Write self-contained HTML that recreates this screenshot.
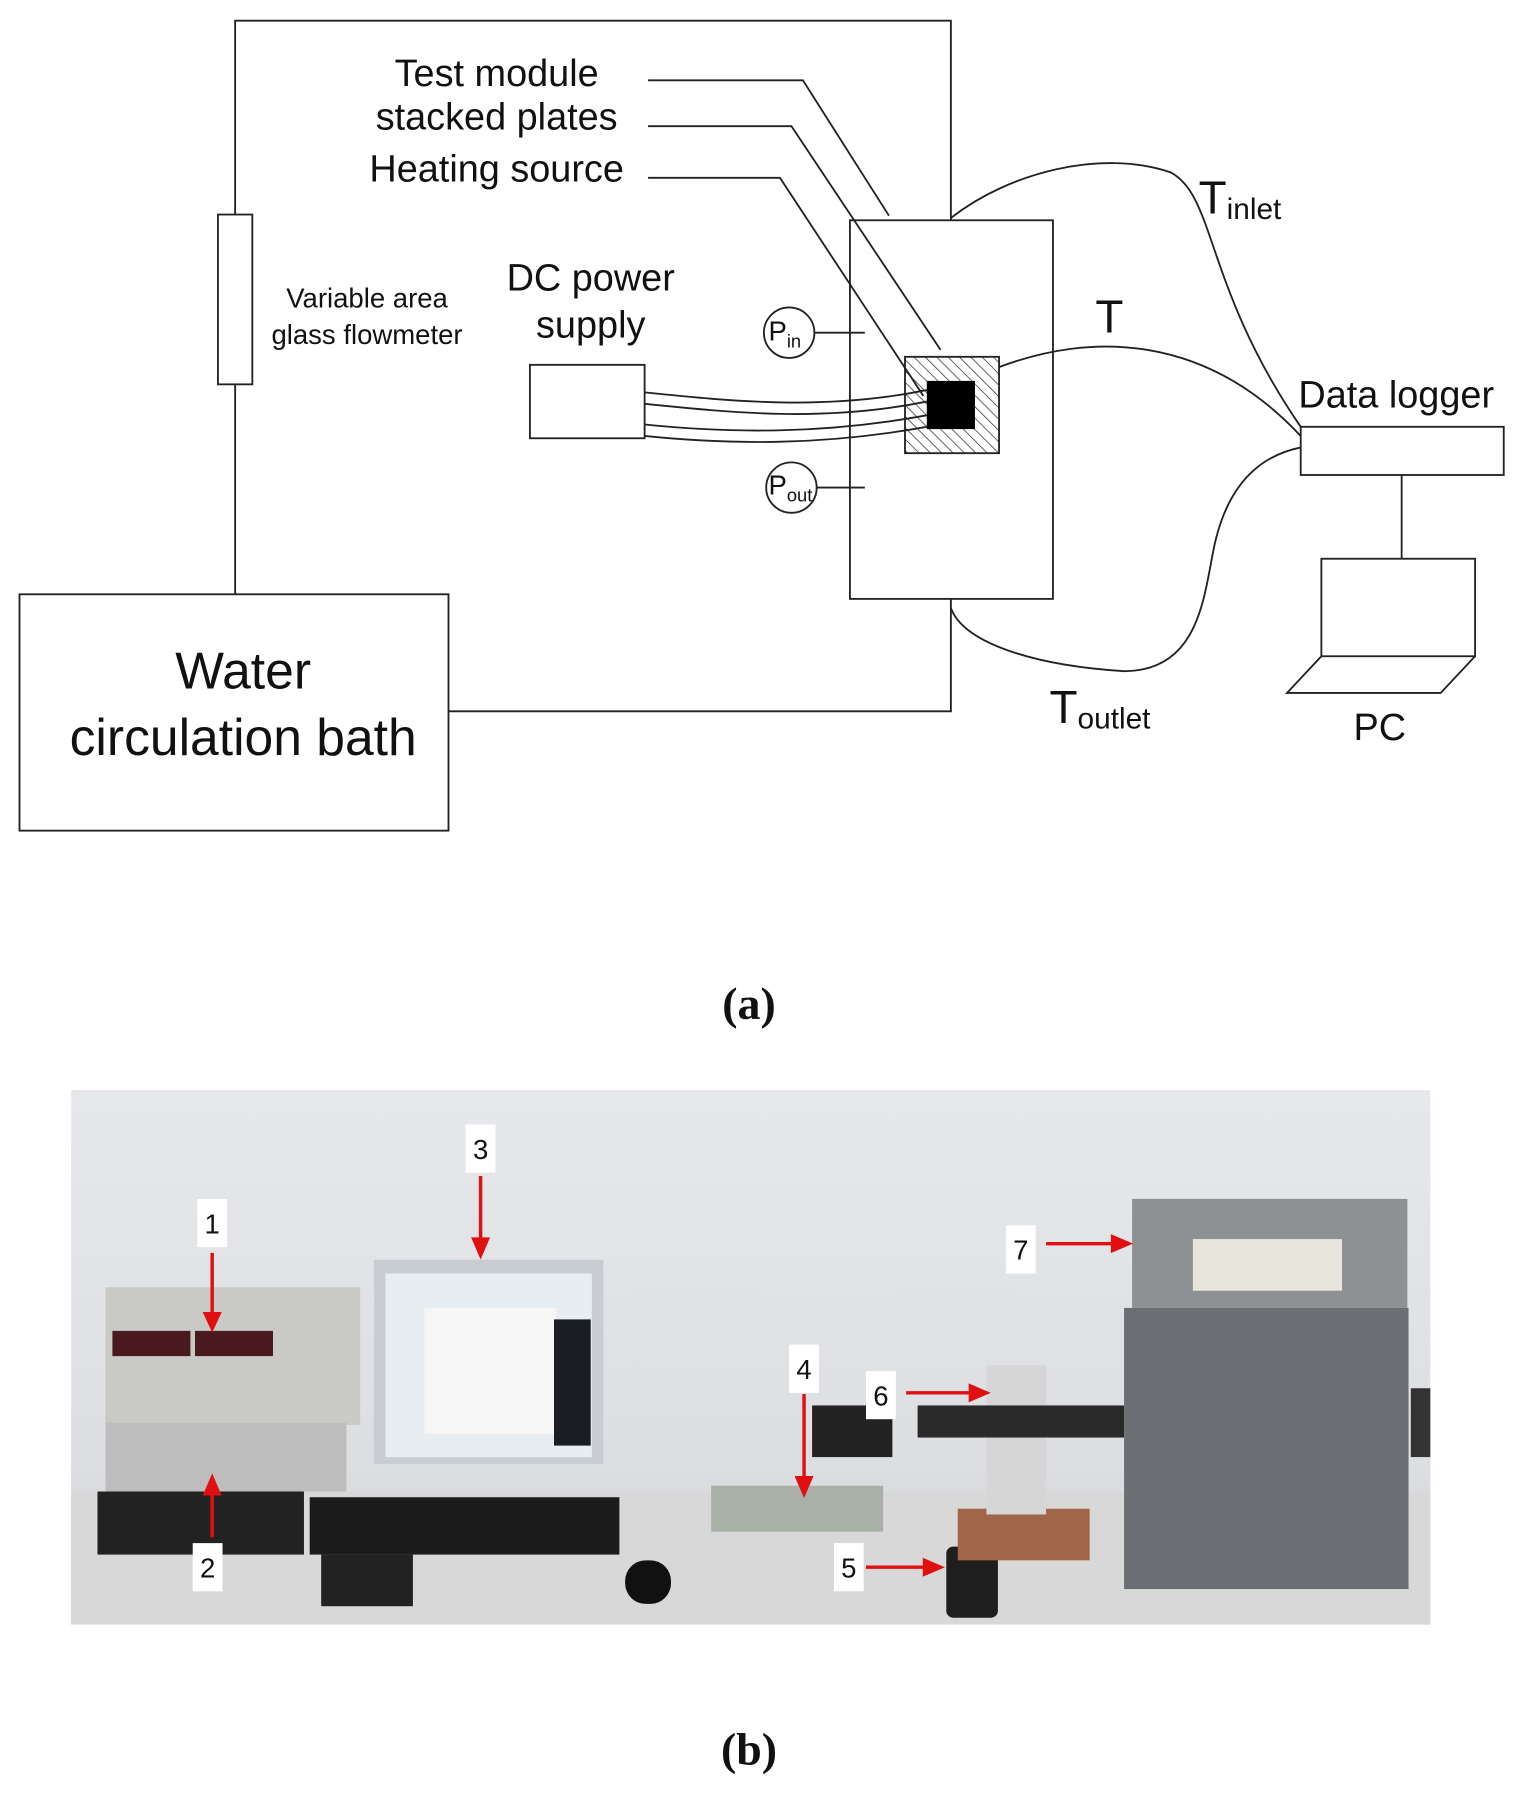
<!DOCTYPE html>
<html><head><meta charset="utf-8"><style>
html,body{margin:0;padding:0;background:#fff;}
svg{display:block;}
text{font-family:"Liberation Sans",sans-serif;fill:#111;}
</style></head><body>
<svg width="1537" height="1807" viewBox="0 0 1340 1575" preserveAspectRatio="none" xmlns="http://www.w3.org/2000/svg">
<defs>
<pattern id="h" width="7" height="7" patternUnits="userSpaceOnUse" patternTransform="rotate(-45)">
<line x1="0" y1="0" x2="0" y2="7" stroke="#333" stroke-width="1.3"/></pattern>
<linearGradient id="wall" x1="0" y1="0" x2="0" y2="1"><stop offset="0" stop-color="#e6e8ec"/><stop offset="0.7" stop-color="#dcdee2"/><stop offset="1" stop-color="#cfd0d2"/></linearGradient>
</defs>
<g fill="none" stroke="#222" stroke-width="1.6">
<polyline points="205,518 205,18 829,18 829,192"/>
<rect x="190" y="187" width="30" height="148" fill="#fff"/>
<rect x="17" y="518" width="374" height="206"/>
<polyline points="391,620 829,620 829,522"/>
<rect x="741" y="192" width="177" height="330"/>
<rect x="789" y="311" width="82" height="84" fill="url(#h)"/>
<rect x="462" y="318" width="100" height="64"/>
<circle cx="688" cy="290" r="22"/><line x1="710" y1="290" x2="754" y2="290"/>
<circle cx="690" cy="425" r="22"/><line x1="712" y1="425" x2="754" y2="425"/>
<path d="M562,342 C640,350 720,358 808,340"/>
<path d="M562,352 C640,360 720,368 808,350"/>
<path d="M562,370 C640,378 720,378 808,362"/>
<path d="M562,380 C640,388 720,388 808,372"/>
<rect x="1134" y="372" width="177" height="42"/>
<line x1="1222" y1="414" x2="1222" y2="487"/>
<rect x="1152" y="487" width="134" height="85"/>
<polyline points="1152,572 1122,604 1256,604 1286,572"/>
<path d="M829,190 C880,150 960,130 1020,150 C1060,170 1050,250 1134,372"/>
<path d="M871,320 C950,290 1050,290 1134,380"/>
<path d="M829,530 C840,560 900,580 980,585 C1050,585 1050,510 1060,470 C1075,410 1110,395 1134,390"/>
<polyline points="565,70 700,70 775,188"/>
<polyline points="565,110 690,110 820,305"/>
<polyline points="565,155 680,155 805,345"/>
</g>
<rect x="808" y="332" width="42" height="42" fill="#000"/>
<text x="433" y="75" font-size="33" text-anchor="middle">Test module</text>
<text x="433" y="113" font-size="33" text-anchor="middle">stacked plates</text>
<text x="433" y="158" font-size="33" text-anchor="middle">Heating source</text>
<text x="320" y="268" font-size="24" text-anchor="middle">Variable area</text>
<text x="320" y="300" font-size="24" text-anchor="middle">glass flowmeter</text>
<text x="515" y="253" font-size="33" text-anchor="middle">DC power</text>
<text x="515" y="294" font-size="33" text-anchor="middle">supply</text>
<text x="670" y="297" font-size="24">P<tspan font-size="16" dy="6">in</tspan></text>
<text x="670" y="431" font-size="24">P<tspan font-size="16" dy="6">out</tspan></text>
<text x="212" y="600" font-size="45" text-anchor="middle">Water</text>
<text x="212" y="658" font-size="45" text-anchor="middle">circulation bath</text>
<text x="1045" y="186" font-size="40">T<tspan font-size="26" dy="5">inlet</tspan></text>
<text x="955" y="290" font-size="40">T</text>
<text x="1132" y="355" font-size="33">Data logger</text>
<text x="915" y="630" font-size="40">T<tspan font-size="26" dy="5">outlet</tspan></text>
<text x="1180" y="645" font-size="33">PC</text>
<text x="653" y="888" text-anchor="middle" style="font-family:'Liberation Serif',serif;font-size:40px;font-weight:bold">(a)</text>
<text x="653" y="1538" text-anchor="middle" style="font-family:'Liberation Serif',serif;font-size:40px;font-weight:bold">(b)</text>
<!-- photo -->
<rect x="62" y="950" width="1185" height="466" fill="url(#wall)"/>
<rect x="62" y="1300" width="1185" height="116" fill="#d8d8d8"/>
<rect x="92" y="1122" width="222" height="120" fill="#c9c9c6"/>
<rect x="98" y="1160" width="68" height="22" fill="#4a1a20"/><rect x="170" y="1160" width="68" height="22" fill="#4a1a20"/>
<rect x="92" y="1240" width="210" height="60" fill="#bdbdbd"/>
<rect x="85" y="1300" width="180" height="55" fill="#222"/>
<rect x="326" y="1098" width="200" height="178" fill="#c8cdd2"/>
<rect x="336" y="1110" width="180" height="160" fill="#e8edf2"/>
<rect x="370" y="1140" width="115" height="110" fill="#f6f6f6"/>
<rect x="483" y="1150" width="32" height="110" fill="#1a1d24"/>
<rect x="270" y="1305" width="270" height="50" fill="#1c1c1c"/>
<rect x="545" y="1360" width="40" height="38" rx="18" fill="#111"/>
<rect x="280" y="1355" width="80" height="45" fill="#222"/>
<rect x="620" y="1295" width="150" height="40" fill="#a8b0a8"/>
<rect x="825" y="1348" width="45" height="62" rx="6" fill="#1e1e1e"/>
<rect x="835" y="1315" width="115" height="45" fill="#a0664a"/>
<rect x="860" y="1190" width="52" height="130" fill="#d6d6d6"/>
<rect x="708" y="1225" width="70" height="45" fill="#222"/>
<rect x="800" y="1225" width="180" height="28" fill="#2a2a2a"/>
<rect x="987" y="1045" width="240" height="95" fill="#8e9194"/>
<rect x="1040" y="1080" width="130" height="45" fill="#e8e6dc"/>
<rect x="980" y="1140" width="248" height="245" fill="#6b6e72"/>
<rect x="1230" y="1210" width="17" height="60" fill="#333"/>
<g font-family="Liberation Sans" font-size="24" text-anchor="middle">
<rect x="172" y="1045" width="26" height="42" fill="#fff"/><text x="185" y="1075">1</text>
<rect x="406" y="980" width="26" height="42" fill="#fff"/><text x="419" y="1010">3</text>
<rect x="688" y="1172" width="26" height="42" fill="#fff"/><text x="701" y="1202">4</text>
<rect x="755" y="1195" width="26" height="42" fill="#fff"/><text x="768" y="1225">6</text>
<rect x="877" y="1068" width="26" height="42" fill="#fff"/><text x="890" y="1098">7</text>
<rect x="168" y="1345" width="26" height="42" fill="#fff"/><text x="181" y="1375">2</text>
<rect x="727" y="1345" width="26" height="42" fill="#fff"/><text x="740" y="1375">5</text>
</g>
<g stroke="#e01010" stroke-width="3" fill="#e01010">
<line x1="185" y1="1092" x2="185" y2="1148"/><polygon points="179,1145 191,1145 185,1158"/>
<line x1="419" y1="1025" x2="419" y2="1082"/><polygon points="413,1080 425,1080 419,1094"/>
<line x1="701" y1="1215" x2="701" y2="1290"/><polygon points="695,1288 707,1288 701,1302"/>
<line x1="790" y1="1214" x2="848" y2="1214"/><polygon points="846,1208 846,1220 860,1214"/>
<line x1="912" y1="1084" x2="972" y2="1084"/><polygon points="970,1078 970,1090 984,1084"/>
<line x1="185" y1="1340" x2="185" y2="1300"/><polygon points="179,1302 191,1302 185,1288"/>
<line x1="755" y1="1366" x2="808" y2="1366"/><polygon points="806,1360 806,1372 820,1366"/>
</g>
</svg>
</body></html>
